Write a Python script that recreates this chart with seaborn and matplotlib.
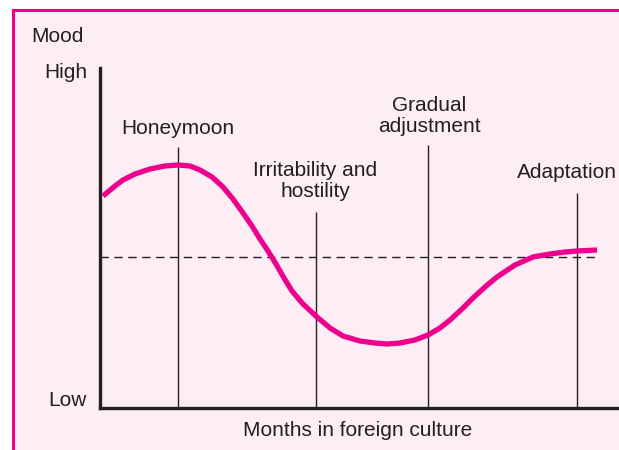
import matplotlib
matplotlib.use("Agg")
import matplotlib.pyplot as plt
import matplotlib.patches as patches
import seaborn as sns
import pandas as pd

# curve of mood over time (x = time units, y = mood units)
months = [3, 15, 23, 35, 50, 65, 78, 90, 100, 112, 123, 133, 143, 152, 160, 168, 176,
          184, 192, 203, 217, 230, 243, 260, 275, 287, 300, 315, 328, 340, 350, 362,
          373, 385, 397, 415, 433, 450, 465, 477, 497]
mood = [212, 222, 228, 234, 239, 242, 243, 242, 238, 231, 221, 209, 195, 182, 169, 157, 144,
        130, 117, 104, 91, 80, 72, 67, 65, 64, 65, 68, 73, 80, 88, 99,
        110, 121, 131, 143, 151, 154, 156, 157, 158]

# stage markers: position, line top, label, label position
stage_x = [78, 216, 328, 477]
stage_top = [261, 196, 263, 215]
stage_labels = ["Honeymoon", "Irritability and\nhostility", "Gradual\nadjustment", "Adaptation"]
label_x = [78, 215, 329, 467]
label_y = [280, 227, 292, 236]

baseline = 151

pink = "#ec008c"
ink = "#231f20"
bg = "#fdedf4"

sns.set_style("white")
plt.rcParams["font.family"] = ["Liberation Sans", "DejaVu Sans"]

fig = plt.figure(figsize=(6.19, 4.5), dpi=100, facecolor="white")
# pink panel with magenta border, running off the right and bottom edges
frame = patches.Rectangle((13 / 619, -0.2), 1.2, 0.2 + 440 / 450,
                          transform=fig.transFigure, facecolor=bg, edgecolor=pink,
                          linewidth=2.2, zorder=-10)
fig.patches.append(frame)

ax = fig.add_axes([100 / 619, 42 / 450, 519 / 619, 340 / 450])
ax.set_zorder(5)
ax.set_facecolor("none")

df = pd.DataFrame({"months": months, "mood": mood})
sns.lineplot(data=df, x="months", y="mood", ax=ax, color=pink, linewidth=3.8,
             sort=False, solid_capstyle="butt", solid_joinstyle="round", zorder=3)

ax.vlines(stage_x, 0, stage_top, color=ink, linewidth=1.0, zorder=2)
ax.hlines(baseline, 0, 497, color=ink, linewidth=1.0, linestyles=(0, (6, 4)), zorder=2)

for lx, ly, lab in zip(label_x, label_y, stage_labels):
    ax.text(lx, ly, lab, ha="center", va="center", fontsize=15, color=ink,
            linespacing=1.1, clip_on=False)

ax.text(-69, 371, "Mood", ha="left", va="center", fontsize=15, color=ink, clip_on=False)
ax.text(-13, 335, "High", ha="right", va="center", fontsize=15, color=ink, clip_on=False)
ax.text(-13, 7, "Low", ha="right", va="center", fontsize=15, color=ink, clip_on=False)
ax.text(258, -22, "Months in foreign culture", ha="center", va="center", fontsize=15,
        color=ink, clip_on=False)

ax.set_xlim(0, 519)
ax.set_ylim(0, 340)
ax.set_xlabel("")
ax.set_ylabel("")
ax.set_xticks([])
ax.set_yticks([])
for side in ["top", "right"]:
    ax.spines[side].set_visible(False)
for side in ["left", "bottom"]:
    ax.spines[side].set_color(ink)
    ax.spines[side].set_linewidth(2.4)

fig.savefig("out.png", dpi=100, facecolor="white")
